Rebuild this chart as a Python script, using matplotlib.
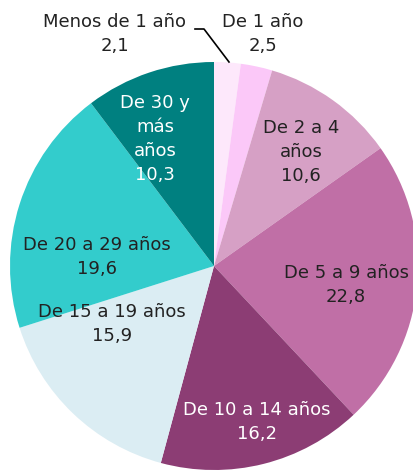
import matplotlib
matplotlib.use('Agg')
import matplotlib.pyplot as plt

# Antigüedad (porcentaje), en sentido horario desde arriba
categories = ['Menos de 1 año', 'De 1 año', 'De 2 a 4 años', 'De 5 a 9 años',
              'De 10 a 14 años', 'De 15 a 19 años', 'De 20 a 29 años', 'De 30 y más años']
values = [2.1, 2.5, 10.6, 22.8, 16.2, 15.9, 19.6, 10.3]
colors = ['#fde8fb', '#fbc8f8', '#d6a0c5', '#c06fa6',
          '#8c3d74', '#dbedf3', '#33cccc', '#008080']

W, H = 413, 470
CX, CY, R = 214, 266, 204

plt.rcParams['font.family'] = ['DejaVu Sans']

fig = plt.figure(figsize=(W / 100, H / 100), dpi=100)
ax = fig.add_axes([(CX - R) / W, (H - CY - R) / H, 2 * R / W, 2 * R / H])
ax.pie(values, colors=colors, startangle=90, counterclock=False, radius=1,
       wedgeprops=dict(linewidth=0))
ax.set_xlim(-1, 1)
ax.set_ylim(-1, 1)
ax.set_aspect('equal')
ax.axis('off')


def px(x, y):
    # pixel position -> data coords of the pie axes
    return (x - CX) / R, (CY - y) / R


def fmt(v):
    return '{:.1f}'.format(v).replace('.', ',')


# label lines: (text lines, centre x px, first line y px, colour)
labels = [
    (['Menos de 1 año', fmt(values[0])], 115, 22, '#222222'),
    (['De 1 año', fmt(values[1])], 263, 22, '#222222'),
    (['De 2 a 4', 'años', fmt(values[2])], 301, 128, '#222222'),
    (['De 5 a 9 años', fmt(values[3])], 346, 273, '#222222'),
    (['De 10 a 14 años', fmt(values[4])], 257, 410, 'white'),
    (['De 15 a 19 años', fmt(values[5])], 112, 312, '#222222'),
    (['De 20 a 29 años', fmt(values[6])], 97, 245, '#222222'),
    (['De 30 y', 'más', 'años', fmt(values[7])], 155, 103, 'white'),
]
for lines, x, y, c in labels:
    for i, line in enumerate(lines):
        tx, ty = px(x, y + 24 * i)
        ax.text(tx, ty, line, ha='center', va='center', fontsize=13,
                color=c, clip_on=False)

# leader line for "Menos de 1 año"
p0, p1, p2 = px(195, 29), px(204, 29), px(229, 62)
ax.plot([p0[0], p1[0], p2[0]], [p0[1], p1[1], p2[1]], color='black',
        linewidth=1.2, clip_on=False)

fig.savefig('out.png', dpi=100)
